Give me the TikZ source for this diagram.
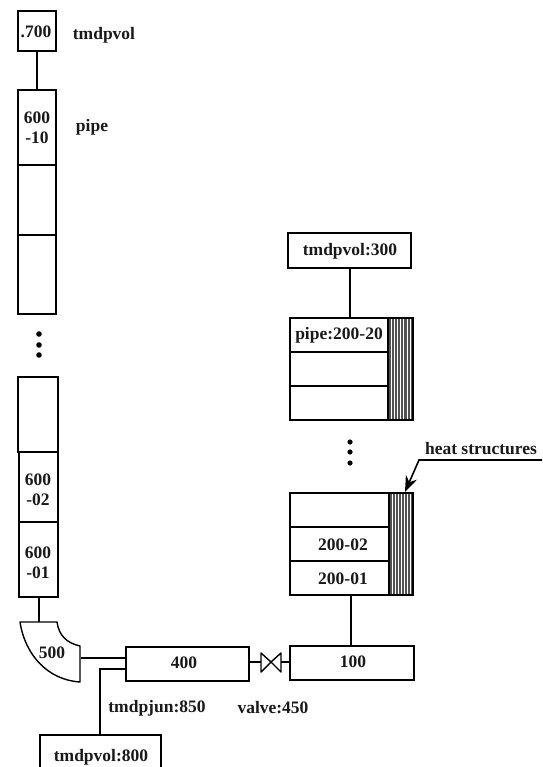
\documentclass[tikz,border=0pt]{standalone}
\usepackage{fontspec}
\setmainfont{Liberation Serif}
\usetikzlibrary{arrows.meta}
\tikzset{
  x=1pt,y=-1pt,
  line/.style={draw=black,line width=1.4pt},
  lbl/.style={font=\fontsize{17.5}{20}\selectfont\bfseries,inner sep=0pt,align=center,text=black!90},
}
\newcommand{\boxcell}[4]{\draw[line,fill=white] (#1,#2) rectangle (#3,#4);}
\newcommand{\hatchblock}[4]{%
  \fill[black!68] (#1,#2) rectangle (#3,#4);
  \foreach \hx in {1,...,7}{
    \draw[white,line width=0.5pt] ({#1+\hx*(#3-#1)/8},#2) -- ({#1+\hx*(#3-#1)/8},#4);
  }
  \draw[line] (#1,#2) rectangle (#3,#4);
}
\begin{document}
\begin{tikzpicture}
\useasboundingbox (0,0) rectangle (542,767);
\clip (0,0) rectangle (542,767);
\fill[white] (0,0) rectangle (542,767);
% left column
\boxcell{18}{11}{56}{51}
\boxcell{18}{90}{56}{165}
\boxcell{18}{165}{56}{235}
\boxcell{18}{235}{56}{314}
\boxcell{18}{377}{58}{452}
\boxcell{19}{452}{58}{522}
\boxcell{19}{522}{58}{597}
\node[lbl] (v700) at (36,32) {.700};
\node[lbl] (p10) at (37,128) {600\\-10};
\node[lbl] (p02) at (38,490) {600\\-02};
\node[lbl] (p01) at (38,563) {600\\-01};
\coordinate (v700b) at (37,51);
\coordinate (p10t) at (37,90);
\draw[line] (v700b) -- (p10t);
\node[lbl] (ltmdp) at (104,35) {tmdpvol};
\node[lbl] (lpipe) at (92,127) {pipe};
\foreach \y in {334,345,355} \fill (39,\y) circle (2.8pt);
% elbow
\coordinate (e1) at (20,622);
\coordinate (e2) at (57,622);
\coordinate (e3) at (80,646);
\coordinate (e4) at (80,682);
\draw[line,fill=white,line join=round] (e1) -- (e2) .. controls (59,636) and (67,643) .. (e3) -- (e4) .. controls (48,680) and (25,655) .. (e1) -- cycle;
\node[lbl] (n500) at (52,653) {500};
\coordinate (p01b) at (39,597);
\coordinate (e5) at (39,622);
\draw[line] (p01b) -- (e5);
% 400
\boxcell{126}{647}{249}{681}
\node[lbl] (n400) at (184,663) {400};
\coordinate (e6) at (81,658);
\coordinate (b400l) at (126,658);
\draw[line,line width=1.8pt] (e6) -- (b400l);
\coordinate (b400j) at (126,669);
\coordinate (jbend) at (100,669);
\coordinate (t800) at (100,735);
\draw[line] (b400j) -- (jbend) -- (t800);
\boxcell{40}{735}{161}{775}
\node[lbl] (n800) at (101,757) {tmdpvol:800};
\node[lbl] (l850) at (157,708) {tmdpjun:850};
\node[lbl] (l450) at (273,708) {valve:450};
% valve
\boxcell{290}{646}{414}{680}
\node[lbl] (n100) at (353,662) {100};
\coordinate (b400r) at (249,662);
\coordinate (v1) at (261,662);
\coordinate (v2) at (281,662);
\coordinate (b100l) at (290,662);
\coordinate (vc) at (271,662);
\draw[line] (b400r) -- (v1);
\draw[line] (v2) -- (b100l);
\draw[line,line join=round] (vc) -- (261,653) -- (261,672) -- cycle;
\draw[line,line join=round] (vc) -- (281,653) -- (281,672) -- cycle;
% lower right stack
\hatchblock{389}{493}{413}{595}
\boxcell{290}{493}{389}{527}
\boxcell{290}{527}{389}{561}
\boxcell{290}{561}{389}{595}
\node[lbl] (s2) at (343,545) {200-02};
\node[lbl] (s1) at (343,579) {200-01};
\coordinate (s1b) at (351,595);
\coordinate (n100t) at (351,646);
\draw[line] (s1b) -- (n100t);
% upper right stack
\hatchblock{388}{318}{413}{420}
\boxcell{290}{318}{388}{352}
\boxcell{290}{352}{388}{386}
\boxcell{290}{386}{388}{420}
\node[lbl] (u3) at (339,335) {pipe:200-20};
\boxcell{288}{233}{411}{268}
\node[lbl] (n300) at (350,251) {tmdpvol:300};
\coordinate (n300b) at (350,268);
\coordinate (u3t) at (350,318);
\draw[line] (n300b) -- (u3t);
\foreach \y in {442,452,463} \fill (350,\y) circle (2.6pt);
% heat structures
\node[lbl] (lheat) at (481,449) {heat structures};
\coordinate (h0) at (542,460);
\coordinate (h1) at (419,460);
\coordinate (h2) at (405,492);
\draw[line,line width=1.6pt,-{Stealth[length=16pt,width=12pt]}] (h0) -- (h1) -- (h2);
\end{tikzpicture}
\end{document}
